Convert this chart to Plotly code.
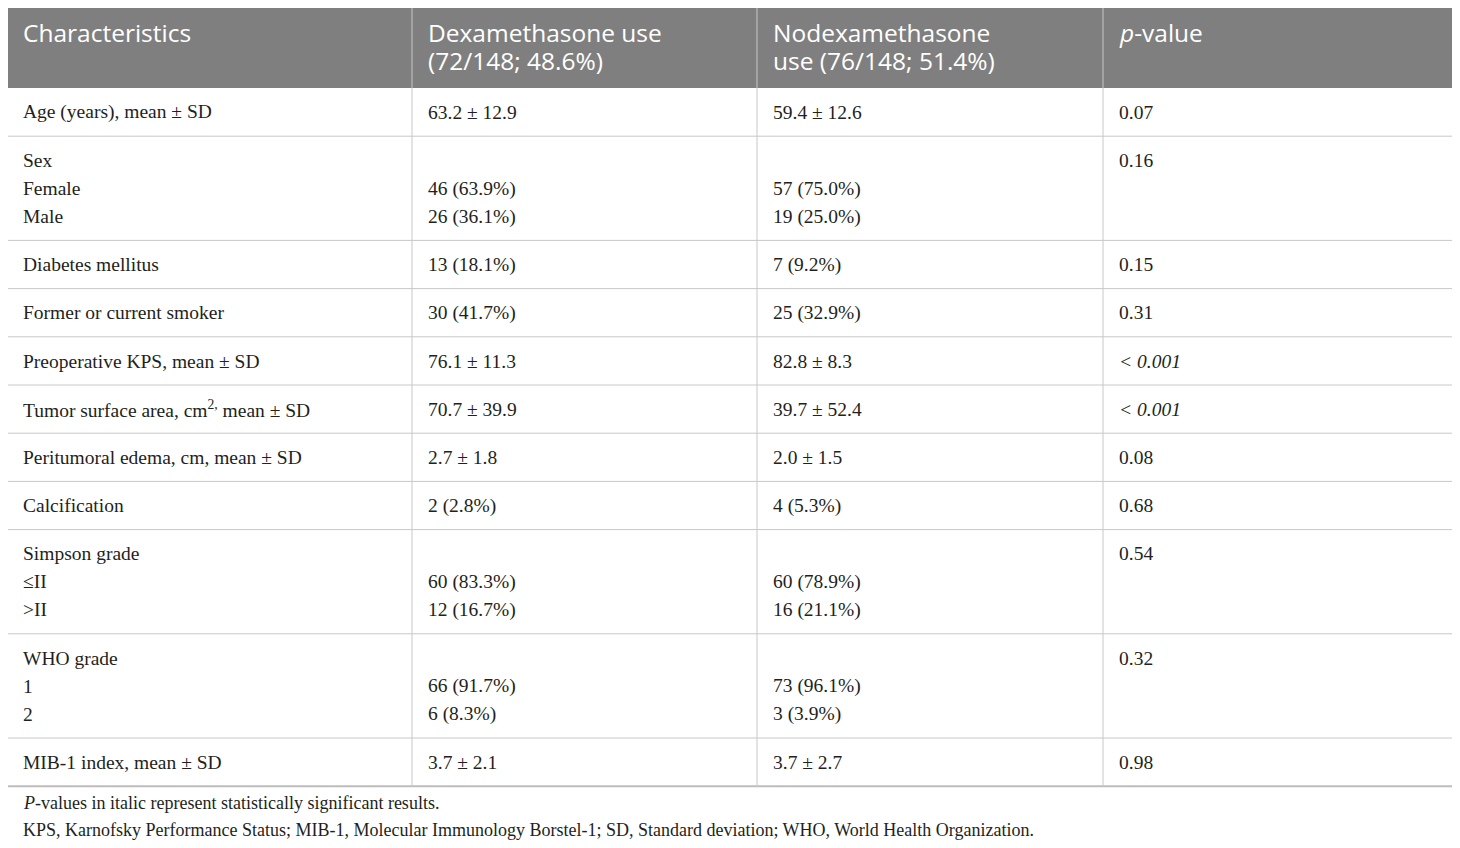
import plotly.graph_objects as go

# table content
headers = [
    ["Characteristics"],
    ["Dexamethasone use", "(72/148; 48.6%)"],
    ["Nodexamethasone", "use (76/148; 51.4%)"],
    ["<i>p</i>-value"],
]
characteristics = [
    ["Age (years), mean ± SD"],
    ["Sex", "Female", "Male"],
    ["Diabetes mellitus"],
    ["Former or current smoker"],
    ["Preoperative KPS, mean ± SD"],
    ["Tumor surface area, cm<sup>2,</sup> mean ± SD"],
    ["Peritumoral edema, cm, mean ± SD"],
    ["Calcification"],
    ["Simpson grade", "≤II", ">II"],
    ["WHO grade", "1", "2"],
    ["MIB-1 index, mean ± SD"],
]
dexa_use = [
    ["63.2 ± 12.9"],
    ["", "46 (63.9%)", "26 (36.1%)"],
    ["13 (18.1%)"],
    ["30 (41.7%)"],
    ["76.1 ± 11.3"],
    ["70.7 ± 39.9"],
    ["2.7 ± 1.8"],
    ["2 (2.8%)"],
    ["", "60 (83.3%)", "12 (16.7%)"],
    ["", "66 (91.7%)", "6 (8.3%)"],
    ["3.7 ± 2.1"],
]
nodexa_use = [
    ["59.4 ± 12.6"],
    ["", "57 (75.0%)", "19 (25.0%)"],
    ["7 (9.2%)"],
    ["25 (32.9%)"],
    ["82.8 ± 8.3"],
    ["39.7 ± 52.4"],
    ["2.0 ± 1.5"],
    ["4 (5.3%)"],
    ["", "60 (78.9%)", "16 (21.1%)"],
    ["", "73 (96.1%)", "3 (3.9%)"],
    ["3.7 ± 2.7"],
]
p_values = ["0.07", "0.16", "0.15", "0.31", "< 0.001", "< 0.001", "0.08", "0.68", "0.54", "0.32", "0.98"]
significant = [False, False, False, False, True, True, False, False, False, False, False]
footnotes = [
    "<i>P</i>-values in italic represent statistically significant results.",
    "KPS, Karnofsky Performance Status; MIB-1, Molecular Immunology Borstel-1; SD, Standard deviation; WHO, World Health Organization.",
]

# layout constants (pixels of the page)
W, H = 1460, 848
page_margin = 8  # browser body margin, the figure sits inside it
col_edges = [7, 412, 757, 1103, 1453]
pad_x = 14
top = 7
header_h = 81
line_h = 28
row_base = 20.2
first_line = 24.3
grid_color = "#c8c8c8"
text_color = "#231f20"
serif = "Liberation Serif"
sans = "Open Sans"

fig = go.Figure()

# header band
fig.add_shape(type="rect", x0=col_edges[0], x1=col_edges[-1], y0=top, y1=top + header_h,
              fillcolor="#7f7f7f", line=dict(width=0), layer="below")
for ci, lines in enumerate(headers):
    for li, txt in enumerate(lines):
        fig.add_annotation(x=col_edges[ci] + pad_x, y=top + 25.5 + li * line_h, text=txt,
                           xanchor="left", yanchor="middle", showarrow=False,
                           font=dict(family=sans, size=24.5, color="white"))

# body rows
columns = [characteristics, dexa_use, nodexa_use, [[p] for p in p_values]]
y = top + header_h
row_lines = [top + header_h]
for ri in range(len(characteristics)):
    n = max(len(col[ri]) for col in columns)
    for ci, col in enumerate(columns):
        for li, txt in enumerate(col[ri]):
            if not txt:
                continue
            if ci == 3 and significant[ri]:
                txt = "<i>" + txt + "</i>"
            fig.add_annotation(x=col_edges[ci] + pad_x, y=y + first_line + li * line_h, text=txt,
                               xanchor="left", yanchor="middle", showarrow=False,
                               font=dict(family=serif, size=19.5, color=text_color))
    y += row_base + line_h * n
    row_lines.append(y)

# grid lines
for yy in row_lines[1:-1]:
    fig.add_shape(type="line", x0=col_edges[0], x1=col_edges[-1], y0=yy, y1=yy,
                  line=dict(color=grid_color, width=1))
fig.add_shape(type="line", x0=col_edges[0], x1=col_edges[-1], y0=row_lines[-1], y1=row_lines[-1],
              line=dict(color="#bdbdbd", width=2))
for xx in col_edges[1:-1]:
    fig.add_shape(type="line", x0=xx, x1=xx, y0=top, y1=row_lines[-1],
                  line=dict(color=grid_color, width=1))
for xx in (col_edges[0], col_edges[-1]):
    fig.add_shape(type="line", x0=xx, x1=xx, y0=top, y1=row_lines[-1],
                  line=dict(color=grid_color, width=1))

# footnotes
for fi, txt in enumerate(footnotes):
    fig.add_annotation(x=col_edges[0] + pad_x, y=row_lines[-1] + 17 + fi * 27, text=txt,
                       xanchor="left", yanchor="middle", showarrow=False,
                       font=dict(family=serif, size=18, color=text_color))

fig.update_layout(
    width=W - page_margin, height=H - page_margin,
    margin=dict(l=0, r=0, t=0, b=0),
    paper_bgcolor="white", plot_bgcolor="white",
    xaxis=dict(range=[page_margin, W], visible=False, fixedrange=True),
    yaxis=dict(range=[H, page_margin], visible=False, fixedrange=True),
    showlegend=False,
)

fig.write_html("out.html")
